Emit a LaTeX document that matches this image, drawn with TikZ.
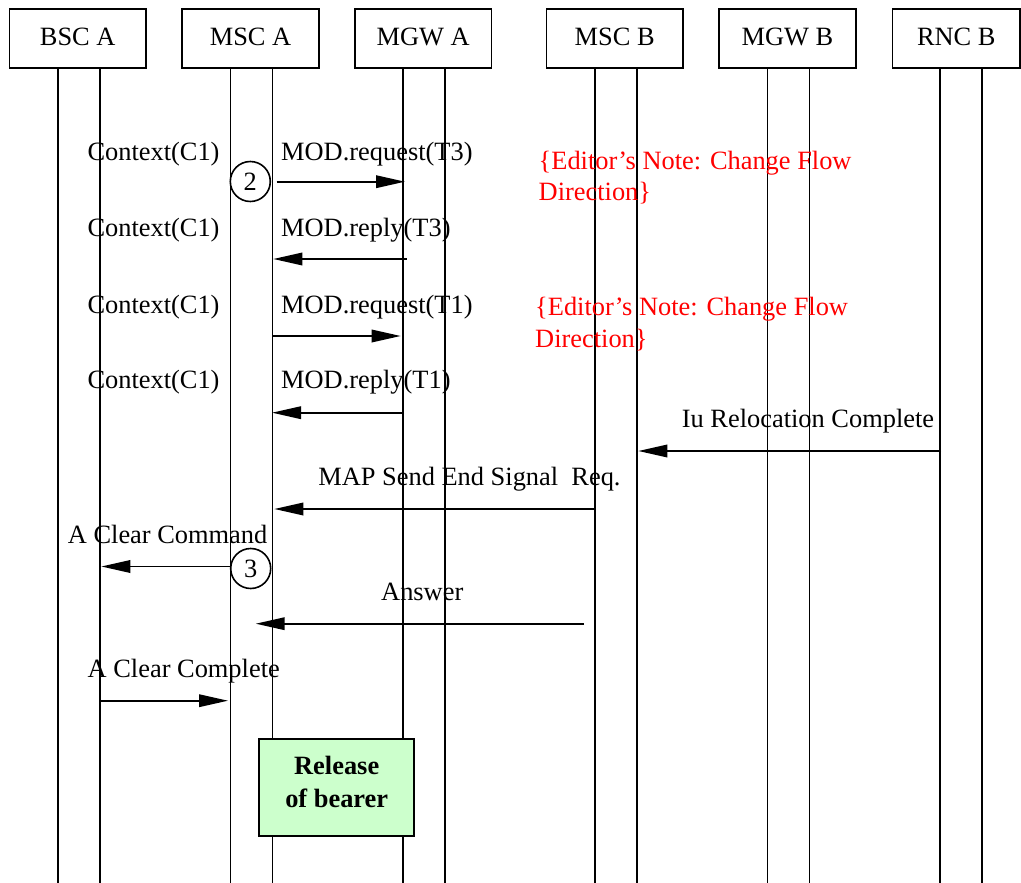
\documentclass[tikz,border=0pt]{standalone}
\usepackage{fontspec}
\setmainfont{Liberation Serif}
\usetikzlibrary{arrows.meta}
\definecolor{relgreen}{HTML}{CCFFCC}
\begin{document}
\begin{tikzpicture}[x=1pt,y=-1pt,
  txt/.style={font=\fontsize{26.4}{31.6}\selectfont},
  lbl/.style={txt, inner sep=0pt, anchor=base west},
  note/.style={lbl, text=red, align=left},
  ent/.style={draw, line width=1.8pt, minimum width=136.5pt, minimum height=58.4pt, inner sep=0pt, txt, text height=17.6pt, text depth=4pt},
  life/.style={line width=1.8pt},
  msg/.style={line width=1.8pt, -{Triangle[length=29pt,width=12.5pt]}},
  num/.style={circle, draw, fill=white, line width=1.6pt, minimum size=40pt, inner sep=0pt, txt},
  relbox/.style={draw, line width=1.8pt, fill=relgreen, minimum width=154.7pt, minimum height=96.7pt, inner sep=0pt},
  reltxt/.style={inner sep=0pt, align=center, font=\fontsize{26.4}{32.7}\selectfont\bfseries}
]
\useasboundingbox (0,0) rectangle (1021,883);

% entities
\node[ent] (bsca) at (77.7,38.5) {BSC A};
\node[ent] (msca) at (250.5,38.5) {MSC A};
\node[ent] (mgwa) at (423.2,38.5) {MGW A};
\node[ent] (mscb) at (614.7,38.5) {MSC B};
\node[ent] (mgwb) at (787.5,38.5) {MGW B};
\node[ent, minimum width=127.5pt] (rncb) at (956.3,38.5) {RNC B};

% lifelines
\foreach \e in {bsca,msca,mgwa,mscb,mgwb}{
  \draw[life] ([xshift=49.2pt]\e.south west) -- ++(0,820);
  \draw[life] ([xshift=91.2pt]\e.south west) -- ++(0,820);
}
\draw[life] ([xshift=48.5pt]rncb.south west) -- ++(0,820);
\draw[life] ([xshift=90.2pt]rncb.south west) -- ++(0,820);

% circles
\node[num] (c2) at (250.3,181.5) {2};
\node[num] (c3) at (250.7,568.5) {3};

% labels
\node[lbl] (ctx1) at (87.3,160) {Context(C1)};
\node[lbl] (ctx2) at (87.3,236) {Context(C1)};
\node[lbl] (ctx3) at (87.3,313) {Context(C1)};
\node[lbl] (ctx4) at (87.3,388.5) {Context(C1)};
\node[lbl] (mod1) at (281,160) {MOD.request(T3)};
\node[lbl] (mod2) at (281,236) {MOD.reply(T3)};
\node[lbl] (mod3) at (281,313) {MOD.request(T1)};
\node[lbl] (mod4) at (281,388.5) {MOD.reply(T1)};
\node[note] (note1) at (538.5,200.7) {\{Editor’s Note: Change Flow\\Direction\}};
\node[note] (note2) at (535,347.3) {\{Editor’s Note: Change Flow\\Direction\}};
\node[lbl] (iu) at (681.7,427.7) {Iu Relocation Complete};
\node[lbl] (map) at (318.2,485) {MAP Send End Signal\ \ Req.};
\node[lbl] (acc) at (67.7,543.3) {A Clear Command};
\node[lbl] (ans) at (381,600.7) {Answer};
\node[lbl] (acp) at (87.5,677.7) {A Clear Complete};

% arrow end points
\coordinate (a1s) at (276.7,181.7);
\coordinate (a1e) at (405,181.7);
\coordinate (a2s) at (406.7,259);
\coordinate (a2e) at (273.3,259);
\coordinate (a3s) at (273.3,336);
\coordinate (a3e) at (400.7,336);
\coordinate (a4s) at (404,412.7);
\coordinate (a4e) at (272,412.7);
\coordinate (a5s) at (941,451);
\coordinate (a5e) at (638.3,451);
\coordinate (a6s) at (596,509);
\coordinate (a6e) at (274.3,509);
\coordinate (a7e) at (101.3,566.5);
\coordinate (a8s) at (584,623.7);
\coordinate (a8e) at (255.7,623.7);
\coordinate (a9s) at (101,700.7);
\coordinate (a9e) at (228,700.7);

\draw[msg] (a1s) -- (a1e);
\draw[msg] (a2s) -- (a2e);
\draw[msg] (a3s) -- (a3e);
\draw[msg] (a4s) -- (a4e);
\draw[msg] (a5s) -- (a5e);
\draw[msg] (a6s) -- (a6e);
\draw[msg] (c3.west |- a7e) -- (a7e);
\draw[msg] (a8s) -- (a8e);
\draw[msg] (a9s) -- (a9e);

% release box
\node[relbox] (rel) at (336.7,787.7) {};
\node[reltxt] (reltext) at ([yshift=6pt]rel.center) {Release\\of bearer};
\end{tikzpicture}
\end{document}
